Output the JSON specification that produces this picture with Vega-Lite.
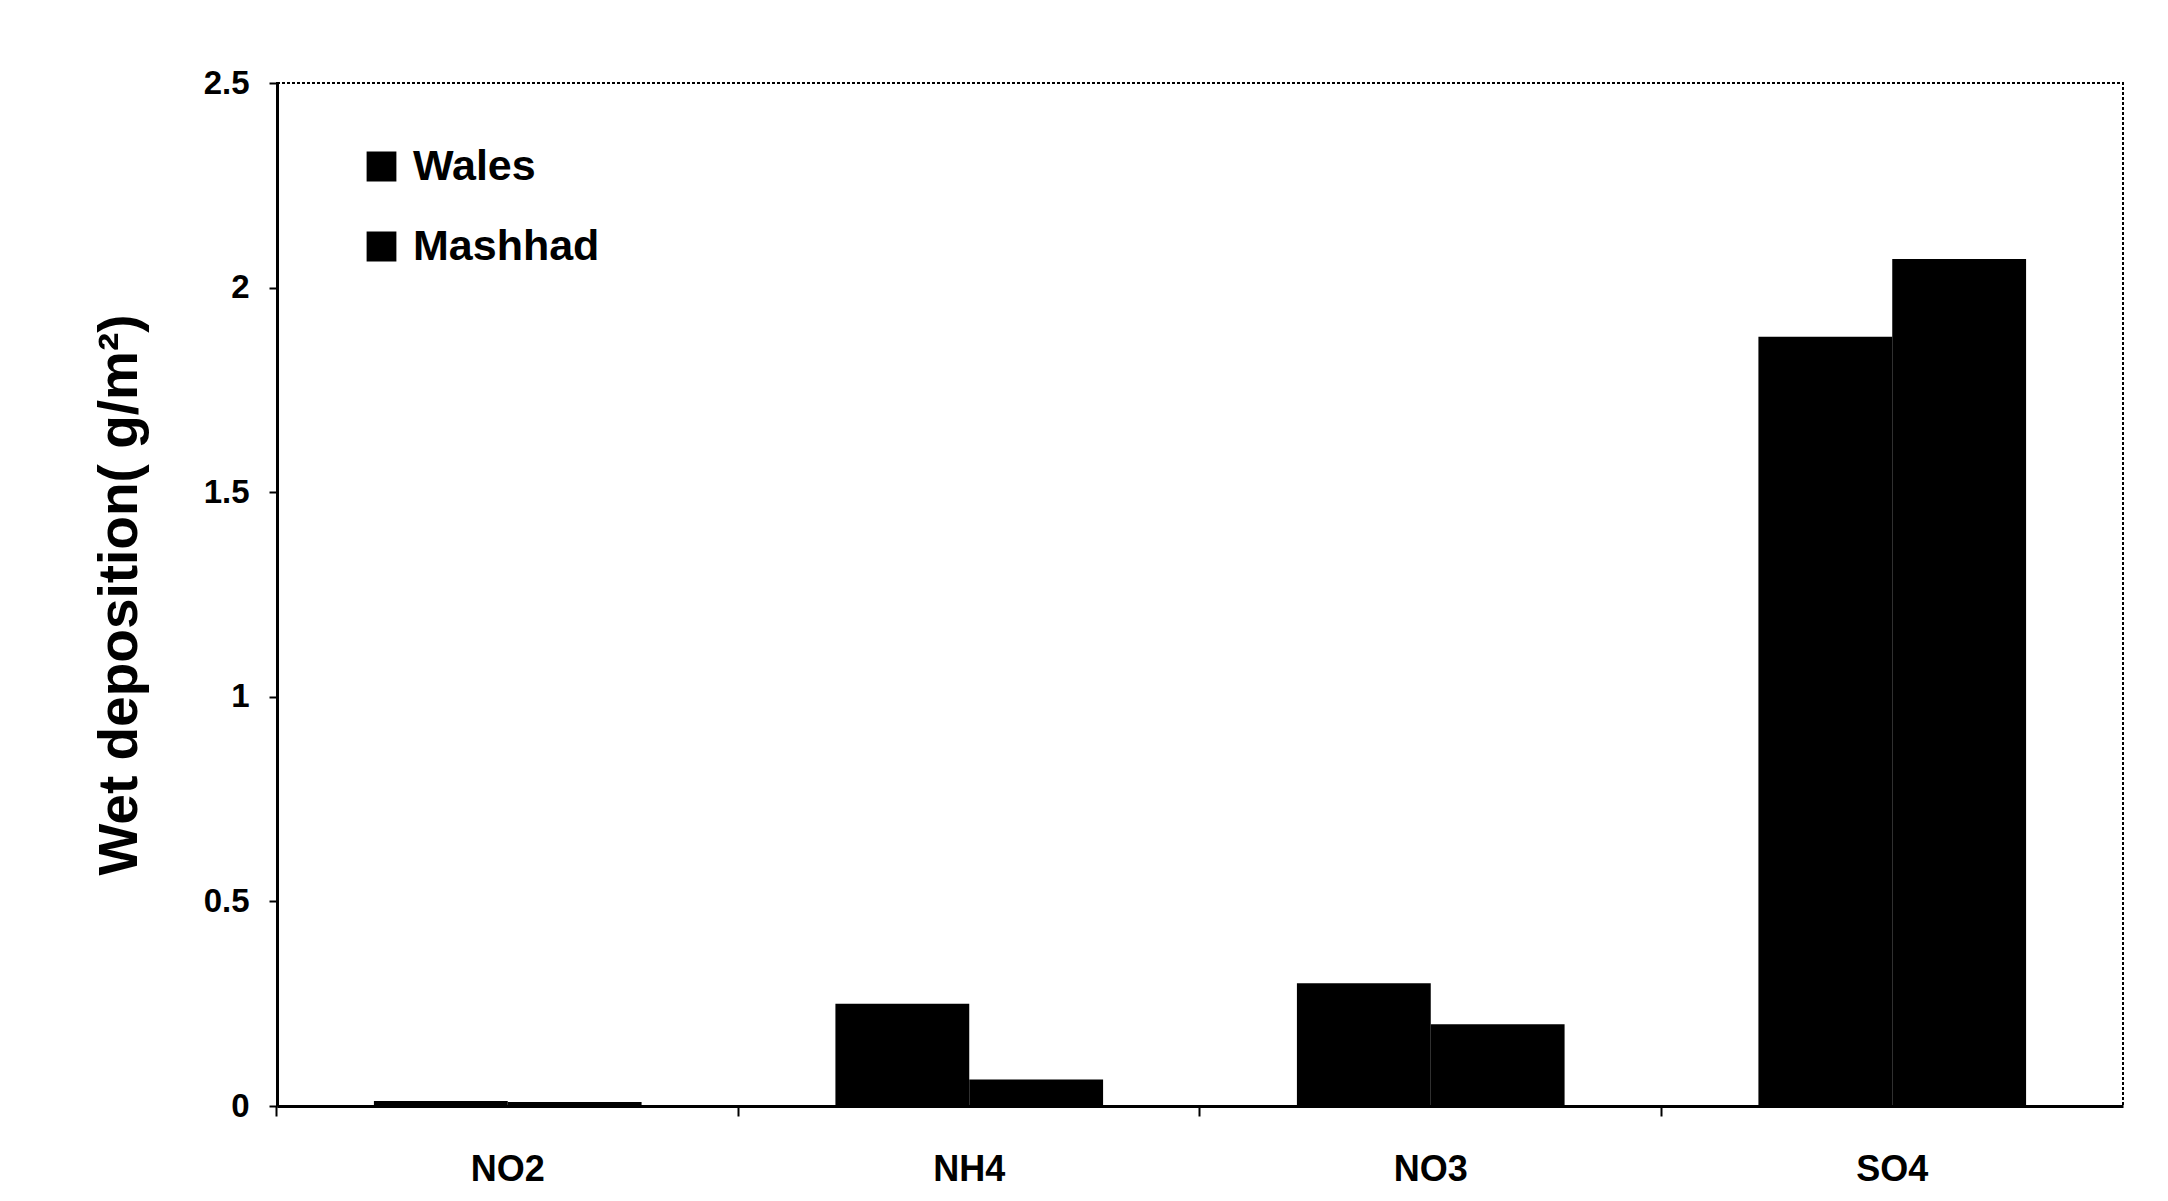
{
  "$schema": "https://vega.github.io/schema/vega-lite/v6.json",
  "width": 1846,
  "height": 1023,
  "autosize": {"type": "none"},
  "padding": {"left": 277, "top": 83, "right": 45, "bottom": 95},
  "background": "white",
  "config": {
    "font": "Liberation Sans",
    "view": {"stroke": "black", "strokeDash": [3, 2], "strokeWidth": 2}
  },
  "data": {
    "values": [
      {"ion": "NO2", "site": "Wales", "value": 0.012},
      {"ion": "NO2", "site": "Mashhad", "value": 0.01},
      {"ion": "NH4", "site": "Wales", "value": 0.25},
      {"ion": "NH4", "site": "Mashhad", "value": 0.065},
      {"ion": "NO3", "site": "Wales", "value": 0.3},
      {"ion": "NO3", "site": "Mashhad", "value": 0.2},
      {"ion": "SO4", "site": "Wales", "value": 1.88},
      {"ion": "SO4", "site": "Mashhad", "value": 2.07}
    ]
  },
  "mark": {"type": "bar", "color": "black"},
  "encoding": {
    "x": {
      "field": "ion",
      "type": "nominal",
      "sort": ["NO2", "NH4", "NO3", "SO4"],
      "scale": {"paddingInner": 0.42, "paddingOuter": 0.21},
      "axis": {
        "title": null,
        "labelAngle": 0,
        "labelFont": "Liberation Sans",
        "labelFontWeight": "bold",
        "labelFontSize": 36,
        "labelColor": "black",
        "labelPadding": 36,
        "bandPosition": -0.3621,
        "tickColor": "black",
        "tickWidth": 2,
        "tickSize": 10,
        "domainColor": "black",
        "domainWidth": 3
      }
    },
    "xOffset": {"field": "site", "type": "nominal", "sort": ["Wales", "Mashhad"]},
    "y": {
      "field": "value",
      "type": "quantitative",
      "scale": {"domain": [0, 2.5]},
      "axis": {
        "title": "Wet deposition( g/m²)",
        "titleFont": "Liberation Sans",
        "titleFontWeight": "bold",
        "titleFontSize": 55,
        "titleColor": "black",
        "titlePadding": 55,
        "values": [0, 0.5, 1, 1.5, 2, 2.5],
        "format": "~g",
        "grid": false,
        "labelFont": "Liberation Sans",
        "labelFontWeight": "bold",
        "labelFontSize": 33,
        "labelColor": "black",
        "labelPadding": 20,
        "tickColor": "black",
        "tickWidth": 2,
        "tickSize": 8,
        "domainColor": "black",
        "domainWidth": 3
      }
    },
    "color": {
      "field": "site",
      "type": "nominal",
      "sort": ["Wales", "Mashhad"],
      "scale": {"range": ["black", "black"]},
      "legend": {
        "title": null,
        "orient": "none",
        "legendX": 83,
        "legendY": 62,
        "symbolType": "square",
        "symbolSize": 800,
        "symbolFillColor": "black",
        "symbolStrokeColor": "black",
        "labelFont": "Liberation Sans",
        "labelFontWeight": "bold",
        "labelFontSize": 43,
        "labelColor": "black",
        "labelLimit": 0,
        "rowPadding": 36,
        "labelOffset": 10
      }
    }
  }
}
